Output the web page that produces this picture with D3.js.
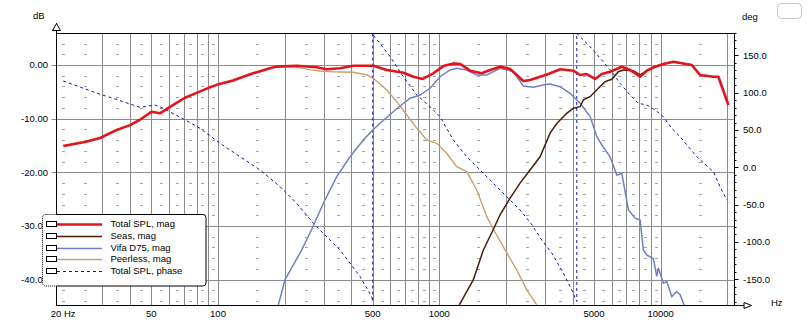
<!DOCTYPE html>
<html>
<head>
<meta charset="utf-8">
<script src="https://cdn.jsdelivr.net/npm/d3@7"></script>
<style>
  html, body { margin: 0; padding: 0; background: #fff; }
  svg { display: block; font-family: 'Liberation Sans', Arial, sans-serif; font-size: 9.5px; }
</style>
</head>
<body>
<svg id="chart" width="811" height="336"></svg>
<script>
// ---- measured responses: [frequency Hz, level dB] ----
const totalSplMag = [
  [20,-15.1],[25.3,-14.3],[29.3,-13.6],[34.9,-12.1],[40,-11.2],[44.4,-10.2],[50.2,-8.7],[54.7,-9.0],
  [60.7,-7.8],[70.9,-6.1],[80.1,-5.2],[90.1,-4.3],[98.6,-3.7],[116.9,-2.9],[143.9,-1.55],[171.9,-0.6],
  [184.2,-0.3],[226.8,-0.13],[279.3,-0.43],[309.9,-0.8],[356,-0.6],[408.9,-0.13],[503.3,-0.13],
  [578.9,-0.93],[688,-1.43],[763.5,-2.18],[841.6,-2.6],[939.6,-1.55],[1042.7,-0.2],[1157,0.3],
  [1240,0.2],[1376,-1.06],[1555,-1.55],[1696,-0.93],[1881,-0.32],[2088,-0.74],[2397,-2.98],
  [2570,-2.8],[2852,-2.2],[3109,-1.68],[3513,-0.8],[4033,-1.06],[4324,-1.86],[4635,-1.68],
  [5054,-2.6],[5419,-1.68],[5908,-1.25],[6675,-0.32],[7277,-0.93],[8073,-2.18],[8656,-1.06],
  [9437,-0.32],[10290,0.19],[11420,0.6],[12460,0.32],[13820,0],[15070,-1.86],[17310,-2.18],
  [18230,-2.18],[20230,-7.45]
];
const seasMag = [
  [1231,-44.7],[1425,-40.0],[1581,-34.45],[1755,-30.6],[1881,-27.9],[2088,-24.8],[2316,-22.0],
  [2570,-19.55],[2852,-17.1],[3165,-12.7],[3393,-10.9],[3764,-9.0],[4033,-8.06],[4324,-7.77],
  [4476,-6.5],[4797,-5.9],[5231,-4.34],[5607,-3.1],[6014,-2.66],[6440,-1.25],[6785,-0.93],
  [7527,-1.06],[8073,-1.86],[8656,-1.06],[9437,-0.32],[10290,0.19],[11420,0.6],[12460,0.32],
  [13820,0],[15070,-1.86],[17310,-2.18],[18230,-2.18],[20230,-7.45]
];
const vifaMag = [
  [187.3,-44.7],[200.8,-40.0],[239,-34.45],[265.2,-30.6],[299.2,-25.75],[343.9,-20.8],[394.9,-17.1],
  [453.6,-13.97],[500.2,-12.1],[578.9,-9.74],[664.6,-7.64],[737.5,-6.2],[818.4,-5.59],[908,-4.34],
  [1007.6,-2.18],[1118,-0.93],[1198,-0.61],[1330,-0.93],[1476,-1.86],[1638,-1.86],[1881,-0.61],
  [2160,-1.25],[2397,-3.91],[2660,-4.15],[2951,-3.72],[3165,-3.54],[3513,-4.04],[3898,-5.27],
  [4324,-7.13],[4797,-9.57],[5144,-13.3],[5419,-14.9],[5908,-17.1],[6334,-20.5],[6675,-20.2],
  [7148,-27.0],[7664,-28.55],[8073,-28.9],[8356,-34.45],[8656,-35.4],[9268,-36.1],[9602,-39.4],
  [9762,-37.8],[10290,-40.65],[10660,-40.35],[11230,-43.15],[11820,-42.2],[12240,-42.8],[12760,-44.7]
];
const peerlessMag = [
  [20,-15.1],[25.3,-14.3],[29.3,-13.6],[34.9,-12.1],[40,-11.2],[44.4,-10.2],[50.2,-8.7],[54.7,-9.0],
  [60.7,-7.8],[70.9,-6.1],[80.1,-5.2],[90.1,-4.3],[98.6,-3.7],[116.9,-2.9],[143.9,-1.55],[171.9,-0.6],
  [184.2,-0.3],[226.8,-0.4],[265,-0.95],[289.1,-1.12],[332,-1.25],[408.9,-1.36],[469.9,-1.86],
  [503.3,-2.48],[578.9,-4.66],[642,-6.83],[712.5,-9.31],[790.8,-11.79],[877.2,-13.97],[973.5,-14.58],
  [1080,-16.44],[1198,-18.94],[1330,-19.87],[1476,-23.28],[1638,-28.25],[1755,-30.6],[1981,-34.45],
  [2238,-38.18],[2483,-41.9],[2755,-44.7]
];
// ---- total phase: [frequency Hz, degrees], wrapped at ±180 ----
const totalSplPhase = [
  [20,115.7],[29.3,97.9],[34.3,91.6],[44.4,80.4],[51.8,83.5],[56.5,79.1],[69.9,64.7],[82.9,52.3],
  [102.1,32.2],[125.8,14.2],[154.9,-3.6],[190.7,-26],[226.8,-48.3],[269.7,-75.1],[356,-110.9],
  [438.4,-146.6],[495,-173.5],[500,-180],[500,180],[503,177.3],[599.3,148.3],[688,121.4],
  [790.8,96.9],[908,81.2],[1007.6,67.8],[1157,36.6],[1330,14.2],[1581,-8],[1881,-30.4],
  [2316,-57.2],[2624,-77.3],[2903,-97.5],[3221,-115],[3636,-142],[3967,-164.5],[4178,-180],
  [4178,180],[4248,177.3],[4797,161.7],[5419,143.8],[6014,128.2],[6557,112.6],[7277,96.9],
  [7930,85.8],[8656,83.5],[9437,76.8],[10290,67.8],[11230,52],[12240,41],[14560,14.2],
  [17310,-5.9],[18550,-26],[19890,-43.8]
];

// ---- axis labels ----
const freqTicks = [20, 50, 100, 500, 1000, 5000, 10000];
const freqTickLabels = ['20 Hz', '50', '100', '500', '1000', '5000', '10000'];
const dbTicks = [0, -10, -20, -30, -40];
const dbTickLabels = ['0.00', '-10.00', '-20.00', '-30.00', '-40.00'];
const degTicks = [150, 100, 50, 0, -50, -100, -150];
const degTickLabels = ['150.0', '100.0', '50.0', '0.0', '-50.0', '-100.0', '-150.0'];

const legendNames = ['Total SPL, mag', 'Seas, mag', 'Vifa D75, mag', 'Peerless, mag', 'Total SPL, phase'];

// ---- styles ----
const COL = {
  total: '#e3141c', seas: '#4a1c0c', vifa: '#6f80c4', peerless: '#c9a06e', phase: '#1414a0',
  grid: '#8c8c8c', dash: '#a4a4a4'
};

const svg = d3.select('#chart');
const L = 56.5, R = 734.5, T = 33.5, B = 305.5;

const x = d3.scaleLog().domain([20, 20000]).range([63.3, 727.3]);
const yDb = d3.scaleLinear().domain([0, -40]).range([65, 279.7]);
const yDeg = d3.scaleLinear().domain([150, -150]).range([55.4, 279.2]);
const crisp = v => Math.round(v) + 0.5;

// ---- grid ----
const grid = svg.append('g');
const majorF = [];
const minorF = [20];
[10, 100, 1000, 10000].forEach(dec => {
  for (let m = 1; m <= 9; m++) {
    const f = m * dec;
    if (f >= 30 && f <= 20000) majorF.push(f);
    const h = (m + 0.5) * dec;
    if (h > 20 && h < 20000) minorF.push(h);
  }
});
grid.selectAll('line.vmaj').data(majorF).join('line')
  .attr('x1', d => crisp(x(d))).attr('x2', d => crisp(x(d)))
  .attr('y1', T).attr('y2', B)
  .attr('stroke', COL.grid).attr('stroke-width', 1);

const majorDb = [0, -10, -20, -30, -40];
grid.selectAll('line.hmaj').data(majorDb).join('line')
  .attr('x1', L - 5).attr('x2', R)
  .attr('y1', d => crisp(yDb(d))).attr('y2', d => crisp(yDb(d)))
  .attr('stroke', COL.grid).attr('stroke-width', 1);

const minorDb = d3.range(-44, 5, 2).filter(v => v % 10 !== 0);
const dashes = [];
minorF.forEach(f => minorDb.forEach(v => dashes.push([f, v])));
grid.selectAll('line.dash').data(dashes).join('line')
  .attr('x1', d => Math.round(x(d[0])) - 1).attr('x2', d => Math.round(x(d[0])) + 2)
  .attr('y1', d => crisp(yDb(d[1]))).attr('y2', d => crisp(yDb(d[1])))
  .attr('stroke', COL.dash).attr('stroke-width', 1);

// ---- curves ----
svg.append('clipPath').attr('id', 'plotClip')
  .append('rect').attr('x', L).attr('y', T).attr('width', R - L).attr('height', B - T);
const curves = svg.append('g').attr('clip-path', 'url(#plotClip)');

const magLine = d3.line().x(d => x(d[0])).y(d => yDb(d[1]));
const phaseLine = d3.line().x(d => x(d[0])).y(d => yDeg(d[1]));

curves.append('path').datum(totalSplPhase).attr('d', phaseLine)
  .attr('fill', 'none').attr('stroke', COL.phase).attr('stroke-width', 1)
  .attr('stroke-dasharray', '3,3');
curves.append('path').datum(peerlessMag).attr('d', magLine)
  .attr('fill', 'none').attr('stroke', COL.peerless).attr('stroke-width', 1.4);
curves.append('path').datum(vifaMag).attr('d', magLine)
  .attr('fill', 'none').attr('stroke', COL.vifa).attr('stroke-width', 1.5);
curves.append('path').datum(seasMag).attr('d', magLine)
  .attr('fill', 'none').attr('stroke', COL.seas).attr('stroke-width', 1.5);
curves.append('path').datum(totalSplMag).attr('d', magLine)
  .attr('fill', 'none').attr('stroke', COL.total).attr('stroke-width', 2.6)
  .attr('stroke-linejoin', 'round');

// ---- frame and axes ----
const frame = svg.append('g').attr('stroke', '#000').attr('fill', 'none').attr('stroke-width', 1);
frame.append('line').attr('x1', L).attr('x2', R).attr('y1', T).attr('y2', T);
frame.append('line').attr('x1', L).attr('x2', L).attr('y1', 23).attr('y2', B);
frame.append('line').attr('x1', L).attr('x2', 744).attr('y1', B).attr('y2', B);
frame.append('line').attr('x1', R).attr('x2', R).attr('y1', T).attr('y2', B);
// axis arrows
frame.append('path').attr('d', `M${L - 4},30.5 L${L},23.5 L${L + 4},30.5 Z`).attr('fill', '#fff');
frame.append('path').attr('d', `M744,${B - 3} L751.5,${B} L744,${B + 3} Z`).attr('fill', '#fff');

// right (phase) axis ticks
const degMinor = d3.range(-180, 181, 10);
frame.selectAll('line.dt').data(degMinor).join('line')
  .attr('x1', R).attr('x2', d => R + (d % 50 === 0 ? 4 : 2))
  .attr('y1', d => crisp(yDeg(d))).attr('y2', d => crisp(yDeg(d)));

// ---- labels ----
const text = svg.append('g').attr('fill', '#000');
text.selectAll('text.db').data(dbTicks).join('text')
  .attr('x', 48).attr('y', d => yDb(d)).attr('dy', '0.36em')
  .attr('text-anchor', 'end').text((d, i) => dbTickLabels[i]);
text.selectAll('text.deg').data(degTicks).join('text')
  .attr('x', 743).attr('y', d => yDeg(d)).attr('dy', '0.36em')
  .text((d, i) => degTickLabels[i]);
text.selectAll('text.f').data(freqTicks).join('text')
  .attr('x', d => x(d)).attr('y', 317)
  .attr('text-anchor', (d, i) => i === 0 ? 'start' : 'middle')
  .attr('dx', (d, i) => i === 0 ? -12.5 : 0)
  .text((d, i) => freqTickLabels[i]);
text.append('text').attr('x', 33).attr('y', 19).text('dB');
text.append('text').attr('x', 742).attr('y', 20).text('deg');
text.append('text').attr('x', 771).attr('y', 306).text('Hz');

// small empty box in the corner
svg.append('rect').attr('x', 777.5).attr('y', 3.5).attr('width', 24).attr('height', 15).attr('rx', 4)
  .attr('fill', '#fff').attr('stroke', '#c4c4c4');

// ---- legend ----
const lg = { x: 42.5, y: 214.5, w: 163.5, h: 71.5 };
const legend = svg.append('g');
svg.append('clipPath').attr('id', 'lgIn').append('rect').attr('x', L).attr('y', 0).attr('width', 400).attr('height', 336);
svg.append('clipPath').attr('id', 'lgOut').append('rect').attr('x', 0).attr('y', 0).attr('width', L).attr('height', 336);
legend.append('rect').attr('x', lg.x).attr('y', lg.y).attr('width', lg.w).attr('height', lg.h).attr('rx', 3)
  .attr('fill', '#fff').attr('stroke', 'none');
legend.append('rect').attr('x', lg.x).attr('y', lg.y).attr('width', lg.w).attr('height', lg.h).attr('rx', 3)
  .attr('fill', 'none').attr('stroke', '#000').attr('clip-path', 'url(#lgIn)');
legend.append('rect').attr('x', lg.x).attr('y', lg.y).attr('width', lg.w).attr('height', lg.h).attr('rx', 3)
  .attr('fill', 'none').attr('stroke', '#000').attr('stroke-dasharray', '1,1').attr('clip-path', 'url(#lgOut)');

const lgStyles = [
  { c: COL.total, w: 2.6, dash: null },
  { c: COL.seas, w: 1.3, dash: null },
  { c: COL.vifa, w: 1.3, dash: null },
  { c: COL.peerless, w: 1.3, dash: null },
  { c: COL.phase, w: 1, dash: '3,3' }
];
const rows = legend.selectAll('g.row').data(legendNames).join('g')
  .attr('transform', (d, i) => `translate(0,${Math.round(224 + i * 11.8)})`);
rows.append('rect').attr('x', 46.5).attr('y', -2.5).attr('width', 10).attr('height', 5)
  .attr('fill', '#fff').attr('stroke', '#000');
rows.append('line').attr('x1', 57).attr('x2', 102).attr('y1', 0.5).attr('y2', 0.5)
  .attr('stroke', (d, i) => lgStyles[i].c).attr('stroke-width', (d, i) => lgStyles[i].w)
  .attr('stroke-dasharray', (d, i) => lgStyles[i].dash);
rows.append('text').attr('x', 110.5).attr('y', 0).attr('dy', '0.36em').text(d => d);
</script>
</body>
</html>
